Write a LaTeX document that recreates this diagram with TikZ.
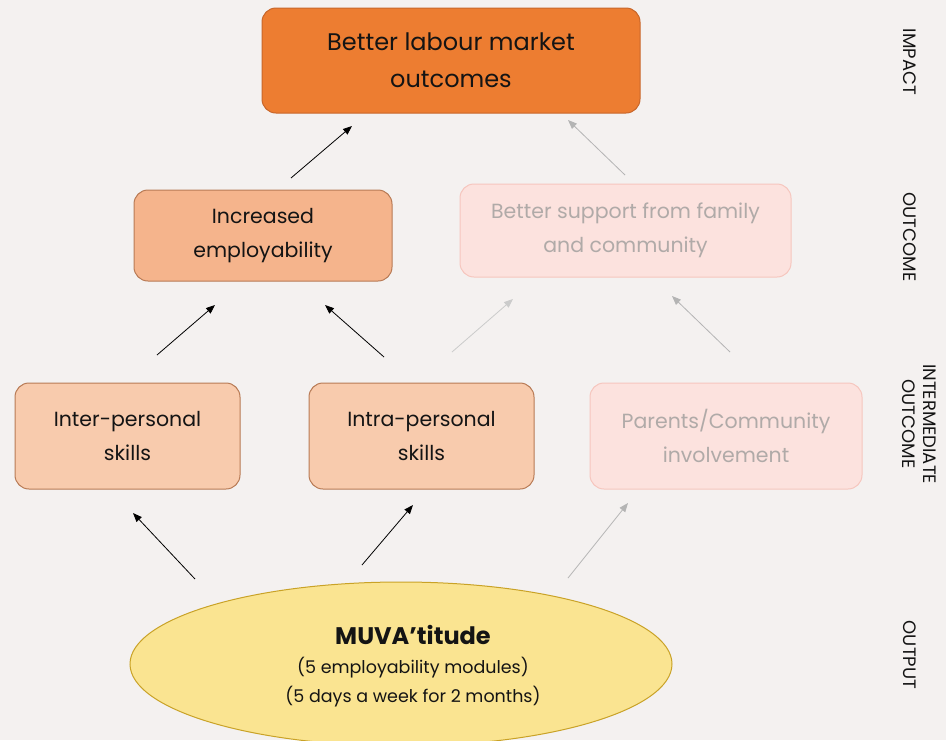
\documentclass[tikz,border=0pt]{standalone}
\usepackage{fontspec}
\setmainfont{Poppins}
\usetikzlibrary{arrows.meta,shapes.geometric}
\definecolor{bg}{HTML}{F4F1F0}
\definecolor{topfill}{HTML}{ED7D31}
\definecolor{topdraw}{HTML}{C8662A}
\definecolor{midfill}{HTML}{F5B48C}
\definecolor{lowfill}{HTML}{F8CBAD}
\definecolor{boxdraw}{HTML}{B87A55}
\definecolor{fadefill}{HTML}{FCE2DE}
\definecolor{fadedraw}{HTML}{F6C6BE}
\definecolor{fadetext}{HTML}{B0AAA8}
\definecolor{ellfill}{HTML}{FAE491}
\definecolor{elldraw}{HTML}{C9A227}
\definecolor{txt}{HTML}{141414}
\definecolor{greyarrow}{HTML}{B4B4B4}
\begin{document}
\begin{tikzpicture}[x=1pt,y=-1pt,
  box/.style={rounded corners=14pt, line width=1pt, align=center, text=txt, inner sep=0pt},
  fadebox/.style={box, fill=fadefill, draw=fadedraw, text=fadetext},
  boxfont/.style={font=\fontsize{20.5}{34}\selectfont},
  blackarrow/.style={-{Triangle[length=9pt,width=7pt]}, line width=0.8pt, draw=black},
  greyarr/.style={-{Triangle[length=9pt,width=7pt]}, line width=0.8pt, draw=greyarrow},
  side/.style={rotate=-90, font=\fontsize{18}{19}\selectfont, text=txt, align=center}]
\fill[bg] (0,0) rectangle (946,740);
\useasboundingbox (0,0) rectangle (946,740);
% nodes
\node[box, fill=topfill, draw=topdraw, minimum width=378pt, minimum height=105pt, font=\fontsize{24}{37}\selectfont] (impact) at (451,60.5) {Better labour market\\outcomes};
\node[box, fill=midfill, draw=boxdraw, minimum width=258pt, minimum height=91pt, boxfont] (employ) at (263,235.5) {Increased\\employability};
\node[fadebox, minimum width=331pt, minimum height=93pt, boxfont] (support) at (625.5,230.5) {Better support from family\\and community};
\node[box, fill=lowfill, draw=boxdraw, minimum width=225pt, minimum height=106pt, boxfont] (inter) at (127.5,436) {Inter-personal\\skills};
\node[box, fill=lowfill, draw=boxdraw, minimum width=225pt, minimum height=106pt, boxfont] (intra) at (421.5,436) {Intra-personal\\skills};
\node[fadebox, minimum width=272pt, minimum height=106pt, boxfont] (parents) at (726,436) {Parents/Community\\involvement};
\node[ellipse, fill=ellfill, draw=elldraw, line width=1pt, minimum width=542pt, minimum height=164pt, inner sep=0pt] (muva) at (401,664) {};
\node[align=center, text=txt, font=\fontsize{17.5}{29}\selectfont] (muvatext) at (413,666) {{\fontsize{24}{28}\selectfont\bfseries MUVA’titude}\\(5 employability modules)\\(5 days a week for 2 months)};
% side labels
\node[side] (limpact) at (910,62) {IMPACT};
\node[side] (loutcome) at (910,237) {OUTCOME};
\node[side, font=\fontsize{18}{21}\selectfont] (linter) at (919,424) {INTERMEDIATE\\OUTCOME};
\node[side] (loutput) at (910,655) {OUTPUT};
% arrow endpoints
\coordinate (a1s) at (291,178); \coordinate (a1e) at (352,126);
\coordinate (a2s) at (625,175); \coordinate (a2e) at (568,120);
\coordinate (a3s) at (157,355); \coordinate (a3e) at (215,305);
\coordinate (a4s) at (384,357); \coordinate (a4e) at (325,305);
\coordinate (a5s) at (452,352); \coordinate (a5e) at (513,299);
\coordinate (a6s) at (730,352); \coordinate (a6e) at (672,296);
\coordinate (a7s) at (195,579); \coordinate (a7e) at (133,513);
\coordinate (a8s) at (362,565); \coordinate (a8e) at (413,505);
\coordinate (a9s) at (568,578); \coordinate (a9e) at (628,503);
\draw[blackarrow] (a1s) -- (a1e);
\draw[greyarr] (a2s) -- (a2e);
\draw[blackarrow] (a3s) -- (a3e);
\draw[blackarrow] (a4s) -- (a4e);
\draw[greyarr, draw=greyarrow!70] (a5s) -- (a5e);
\draw[greyarr] (a6s) -- (a6e);
\draw[blackarrow] (a7s) -- (a7e);
\draw[blackarrow] (a8s) -- (a8e);
\draw[greyarr] (a9s) -- (a9e);
\end{tikzpicture}
\end{document}
